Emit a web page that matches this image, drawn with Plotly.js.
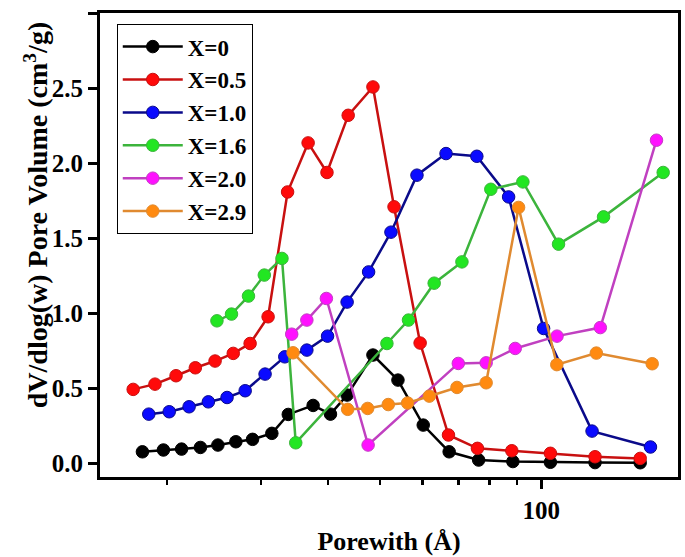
<!DOCTYPE html>
<html>
<head>
<meta charset="utf-8">
<script src="https://cdn.plot.ly/plotly-3.0.1.min.js"></script>
<style>
  html, body { margin: 0; padding: 0; background: #fff; }
  #chart { width: 685px; height: 557px; }
</style>
</head>
<body>
<div id="chart"></div>
<script>
// pore width (Å) and dV/dlog(w) for each sample
var names = ['X=0', 'X=0.5', 'X=1.0', 'X=1.6', 'X=2.0', 'X=2.9'];

var x0 = [18.0, 19.7, 21.3, 23.1, 24.9, 26.9, 28.9, 31.4, 33.7, 37.5, 40.4, 43.4, 48.5, 54.0, 60.2, 67.3, 76.4, 88.5, 104, 126, 153];
var y0 = [0.075, 0.087, 0.093, 0.104, 0.12, 0.142, 0.158, 0.198, 0.324, 0.384, 0.326, 0.453, 0.72, 0.553, 0.253, 0.075, 0.02, 0.01, 0.005, 0.003, 0.002];

var x05 = [17.3, 19.0, 20.8, 22.6, 24.6, 26.6, 28.6, 30.9, 33.6, 36.7, 39.8, 43.6, 48.5, 53.1, 59.4, 67.1, 76.0, 88.1, 104, 126, 153];
var y05 = [0.491, 0.526, 0.582, 0.635, 0.68, 0.731, 0.797, 0.975, 1.807, 2.134, 1.937, 2.318, 2.507, 1.708, 0.80, 0.187, 0.098, 0.082, 0.065, 0.042, 0.031];

var x10 = [18.5, 20.2, 22.0, 23.9, 25.9, 28.0, 30.5, 33.2, 36.5, 39.9, 43.4, 47.6, 52.4, 58.6, 66.4, 75.8, 86.9, 101, 124.4, 159.9];
var y10 = [0.326, 0.342, 0.375, 0.408, 0.437, 0.482, 0.593, 0.708, 0.753, 0.846, 1.073, 1.274, 1.539, 1.919, 2.063, 2.045, 1.774, 0.897, 0.213, 0.107];

var x16 = [24.8, 26.4, 28.4, 30.4, 32.8, 34.8, 51.5, 56.5, 63.1, 71.1, 80.5, 92.4, 107.7, 130.7, 168.9];
var y16 = [0.948, 0.993, 1.113, 1.253, 1.364, 0.135, 0.797, 0.953, 1.199, 1.341, 1.825, 1.874, 1.459, 1.641, 1.937];

var x20 = [34.2, 36.5, 39.7, 47.5, 70.0, 78.9, 89.4, 107.0, 128.9, 164.1];
var y20 = [0.859, 0.953, 1.097, 0.12, 0.664, 0.668, 0.764, 0.846, 0.903, 2.152];

var x29 = [34.4, 43.5, 47.4, 51.8, 56.3, 61.8, 69.6, 78.9, 90.7, 106.9, 126.7, 161.1];
var y29 = [0.735, 0.358, 0.364, 0.39, 0.40, 0.446, 0.504, 0.535, 1.704, 0.656, 0.733, 0.662];

var xs = [x0, x05, x10, x16, x20, x29];
var ys = [y0, y05, y10, y16, y20, y29];
var lineColors = ['#000000', '#c81010', '#0a0a8a', '#3cb43c', '#c040c0', '#e08a30'];
var markerColors = ['#000000', '#ff0a0a', '#0a0aff', '#22e622', '#ff10ff', '#ff8a10'];

var traces = [];
for (var i = 0; i < names.length; i++) {
  traces.push({
    x: xs[i],
    y: ys[i],
    name: names[i],
    type: 'scatter',
    mode: 'lines+markers',
    line: {color: lineColors[i], width: 2.5},
    marker: {color: markerColors[i], size: 12.5, line: {color: lineColors[i], width: 1}}
  });
}

var fam = 'Liberation Serif, Times New Roman, serif';

var layout = {
  width: 685,
  height: 557,
  margin: {l: 100, r: 7, t: 13, b: 80},
  paper_bgcolor: '#fff',
  plot_bgcolor: '#fff',
  font: {family: fam, size: 25, color: '#000', weight: 'bold'},
  showlegend: true,
  legend: {
    x: 0.029, y: 0.976, xanchor: 'left', yanchor: 'top',
    bordercolor: '#000', borderwidth: 1, bgcolor: '#fff',
    font: {family: fam, size: 23, color: '#000', weight: 'bold'},
    itemwidth: 60, tracegroupgap: 0
  },
  xaxis: {
    type: 'log',
    range: [Math.log10(15.0), Math.log10(180)],
    tickmode: 'array',
    tickvals: [100],
    ticktext: ['100'],
    ticks: 'outside', ticklen: 9, tickwidth: 3, tickcolor: '#000',
    minor: {tickmode: 'array', tickvals: [20, 30, 40, 50, 60, 70, 80, 90], ticks: 'outside', ticklen: 5, tickwidth: 2.5, tickcolor: '#000', showgrid: false},
    showline: true, linecolor: '#000', linewidth: 3, mirror: true,
    showgrid: false, zeroline: false,
    tickfont: {family: fam, size: 25, color: '#000', weight: 'bold'},
    title: {text: 'Porewith (Å)', font: {family: fam, size: 26, color: '#000', weight: 'bold'}, standoff: 9}
  },
  yaxis: {
    range: [-0.093, 3.0],
    tickmode: 'linear', tick0: 0, dtick: 0.5,
    tickformat: '.1f',
    ticks: 'outside', ticklen: 9, tickwidth: 3, tickcolor: '#000',
    showline: true, linecolor: '#000', linewidth: 3, mirror: true,
    showgrid: false, zeroline: false,
    tickfont: {family: fam, size: 25, color: '#000', weight: 'bold'}
  },
  annotations: [{
    text: 'dV/dlog(w) Pore Volume (cm<sup>3</sup>/g)',
    xref: 'paper', yref: 'paper',
    x: -0.11, y: 0.565,
    xanchor: 'center', yanchor: 'middle',
    textangle: -90, showarrow: false,
    font: {family: fam, size: 28, color: '#000', weight: 'bold'}
  }]
};

Plotly.newPlot('chart', traces, layout, {displayModeBar: false, staticPlot: true});
</script>
</body>
</html>
